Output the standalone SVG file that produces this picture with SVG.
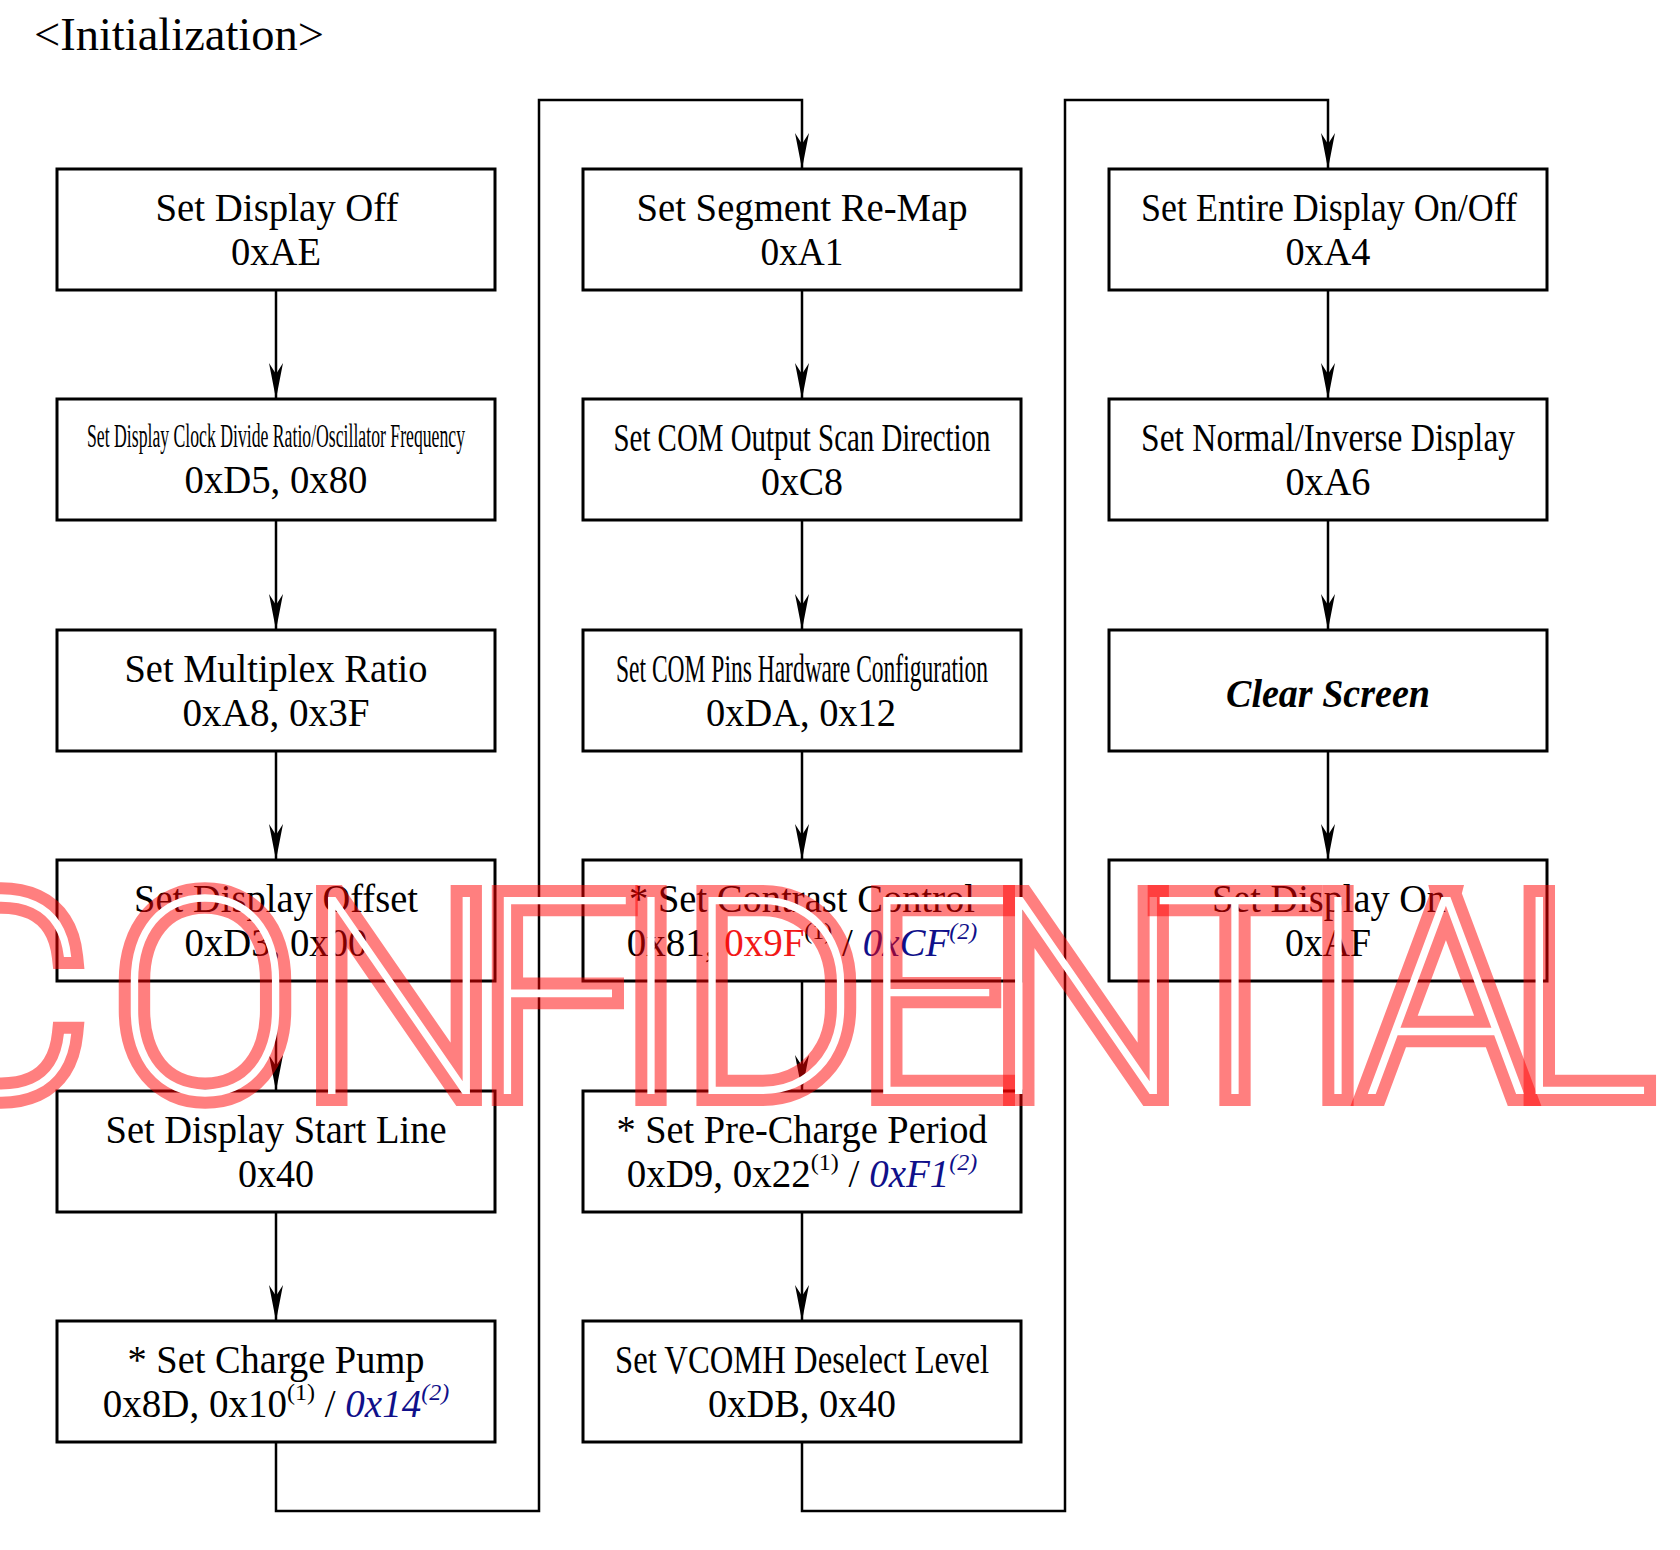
<svg xmlns="http://www.w3.org/2000/svg" width="1680" height="1550" viewBox="0 0 1680 1550">
<style>
.bg { fill: #ffffff; }
.box { fill: #ffffff; stroke: #000000; stroke-width: 3; }
.t { font-family: "Liberation Serif", "Times New Roman", serif; font-size: 40px; text-anchor: middle; fill: #000000; }
.m { font-size: 39px; }
.sm { font-size: 34px; }
.sup { font-size: 24px; }
.red { fill: #f21818; }
.blue { fill: #10108a; font-style: italic; }
.bi { font-weight: bold; font-style: italic; }
.conn { fill: none; stroke: #000000; stroke-width: 2.5; }
.arr { marker-end: url(#arrow); }
.wm { font-family: Roboto, Lato, "DejaVu Sans", sans-serif; font-weight: 100; font-size: 277px; text-anchor: middle; fill: #ffffff; stroke: #ff0000; stroke-opacity: 0.5; stroke-width: 24; stroke-linejoin: miter; stroke-miterlimit: 1.8; paint-order: stroke; }
</style>
<defs>
<marker id="arrow" viewBox="0 0 36 14" refX="36" refY="7" markerWidth="36" markerHeight="14" markerUnits="userSpaceOnUse" orient="auto">
<path d="M0,0 L36,7 L0,14 L11,7 Z" fill="#000000"/>
</marker>
</defs>
<rect class="bg" x="0" y="0" width="1680" height="1550"/>
<text class="t" x="34" y="50" style="text-anchor:start;font-size:47px" textLength="290" lengthAdjust="spacingAndGlyphs">&lt;Initialization&gt;</text>

<g id="connectors">
<path class="conn arr" d="M276,290 V399"/>
<path class="conn arr" d="M276,520 V630"/>
<path class="conn arr" d="M276,751 V860"/>
<path class="conn arr" d="M276,981 V1091"/>
<path class="conn arr" d="M276,1212 V1321"/>
<path class="conn arr" d="M276,1442 V1511 H539 V100 H802 V169"/>
<path class="conn arr" d="M802,290 V399"/>
<path class="conn arr" d="M802,520 V630"/>
<path class="conn arr" d="M802,751 V860"/>
<path class="conn arr" d="M802,981 V1091"/>
<path class="conn arr" d="M802,1212 V1321"/>
<path class="conn arr" d="M802,1442 V1511 H1065 V100 H1328 V169"/>
<path class="conn arr" d="M1328,290 V399"/>
<path class="conn arr" d="M1328,520 V630"/>
<path class="conn arr" d="M1328,751 V860"/>
</g>

<g id="n-display-off">
<rect class="box" x="57" y="169" width="438" height="121"/>
<text class="t" x="277" y="221" textLength="243" lengthAdjust="spacingAndGlyphs">Set Display Off</text>
<text class="t" x="276" y="265" textLength="90" lengthAdjust="spacingAndGlyphs">0xAE</text>
</g>
<g id="n-clock-divide">
<rect class="box" x="57" y="399" width="438" height="121"/>
<text class="t sm" x="276" y="447" textLength="378" lengthAdjust="spacingAndGlyphs">Set Display Clock Divide Ratio/Oscillator Frequency</text>
<text class="t" x="276" y="493" textLength="183" lengthAdjust="spacingAndGlyphs">0xD5, 0x80</text>
</g>
<g id="n-multiplex">
<rect class="box" x="57" y="630" width="438" height="121"/>
<text class="t" x="276" y="682" textLength="303" lengthAdjust="spacingAndGlyphs">Set Multiplex Ratio</text>
<text class="t" x="276" y="726" textLength="187" lengthAdjust="spacingAndGlyphs">0xA8, 0x3F</text>
</g>
<g id="n-display-offset">
<rect class="box" x="57" y="860" width="438" height="121"/>
<text class="t" x="276" y="912" textLength="284" lengthAdjust="spacingAndGlyphs">Set Display Offset</text>
<text class="t" x="276" y="956" textLength="183" lengthAdjust="spacingAndGlyphs">0xD3, 0x00</text>
</g>
<g id="n-start-line">
<rect class="box" x="57" y="1091" width="438" height="121"/>
<text class="t" x="276" y="1143" textLength="341" lengthAdjust="spacingAndGlyphs">Set Display Start Line</text>
<text class="t" x="276" y="1187" textLength="76" lengthAdjust="spacingAndGlyphs">0x40</text>
</g>
<g id="n-charge-pump">
<rect class="box" x="57" y="1321" width="438" height="121"/>
<text class="t" x="276" y="1373" textLength="297" lengthAdjust="spacingAndGlyphs">* Set Charge Pump</text>
<text class="t m" x="276" y="1417">0x8D, 0x10<tspan class="sup" dy="-17">(1)</tspan><tspan dy="17"> / </tspan><tspan class="blue">0x14</tspan><tspan class="sup blue" dy="-17">(2)</tspan></text>
</g>

<g id="n-segment-remap">
<rect class="box" x="583" y="169" width="438" height="121"/>
<text class="t" x="802" y="221" textLength="331" lengthAdjust="spacingAndGlyphs">Set Segment Re-Map</text>
<text class="t" x="802" y="265" textLength="83" lengthAdjust="spacingAndGlyphs">0xA1</text>
</g>
<g id="n-com-scan">
<rect class="box" x="583" y="399" width="438" height="121"/>
<text class="t" x="802" y="451" textLength="377" lengthAdjust="spacingAndGlyphs">Set COM Output Scan Direction</text>
<text class="t" x="802" y="495" textLength="82" lengthAdjust="spacingAndGlyphs">0xC8</text>
</g>
<g id="n-com-pins">
<rect class="box" x="583" y="630" width="438" height="121"/>
<text class="t" x="802" y="682" textLength="372" lengthAdjust="spacingAndGlyphs">Set COM Pins Hardware Configuration</text>
<text class="t" x="801" y="726" textLength="190" lengthAdjust="spacingAndGlyphs">0xDA, 0x12</text>
</g>
<g id="n-contrast">
<rect class="box" x="583" y="860" width="438" height="121"/>
<text class="t" x="802" y="912" textLength="346" lengthAdjust="spacingAndGlyphs">* Set Contrast Control</text>
<text class="t m" x="802" y="956">0x81, <tspan class="red">0x9F</tspan><tspan class="sup" dy="-17">(1)</tspan><tspan dy="17"> / </tspan><tspan class="blue">0xCF</tspan><tspan class="sup blue" dy="-17">(2)</tspan></text>
</g>
<g id="n-precharge">
<rect class="box" x="583" y="1091" width="438" height="121"/>
<text class="t" x="802" y="1143" textLength="371" lengthAdjust="spacingAndGlyphs">* Set Pre-Charge Period</text>
<text class="t m" x="802" y="1187">0xD9, 0x22<tspan class="sup" dy="-17">(1)</tspan><tspan dy="17"> / </tspan><tspan class="blue">0xF1</tspan><tspan class="sup blue" dy="-17">(2)</tspan></text>
</g>
<g id="n-vcomh">
<rect class="box" x="583" y="1321" width="438" height="121"/>
<text class="t" x="802" y="1373" textLength="374" lengthAdjust="spacingAndGlyphs">Set VCOMH Deselect Level</text>
<text class="t" x="802" y="1417" textLength="188" lengthAdjust="spacingAndGlyphs">0xDB, 0x40</text>
</g>

<g id="n-entire-display">
<rect class="box" x="1109" y="169" width="438" height="121"/>
<text class="t" x="1329" y="221" textLength="376" lengthAdjust="spacingAndGlyphs">Set Entire Display On/Off</text>
<text class="t" x="1328" y="265" textLength="85" lengthAdjust="spacingAndGlyphs">0xA4</text>
</g>
<g id="n-normal-inverse">
<rect class="box" x="1109" y="399" width="438" height="121"/>
<text class="t" x="1328" y="451" textLength="374" lengthAdjust="spacingAndGlyphs">Set Normal/Inverse Display</text>
<text class="t" x="1328" y="495" textLength="85" lengthAdjust="spacingAndGlyphs">0xA6</text>
</g>
<g id="n-clear-screen">
<rect class="box" x="1109" y="630" width="438" height="121"/>
<text class="t bi m" x="1328" y="707" textLength="204" lengthAdjust="spacingAndGlyphs">Clear Screen</text>
</g>
<g id="n-display-on">
<rect class="box" x="1109" y="860" width="438" height="121"/>
<text class="t" x="1329" y="912" textLength="234" lengthAdjust="spacingAndGlyphs">Set Display On</text>
<text class="t" x="1328" y="956" textLength="86" lengthAdjust="spacingAndGlyphs">0xAF</text>
</g>

<g id="watermark">
<text class="wm" x="0 205 399 556 651 772 935 1086 1235 1338 1446 1580" y="1094">CONFIDENTIAL</text>
</g>
</svg>
